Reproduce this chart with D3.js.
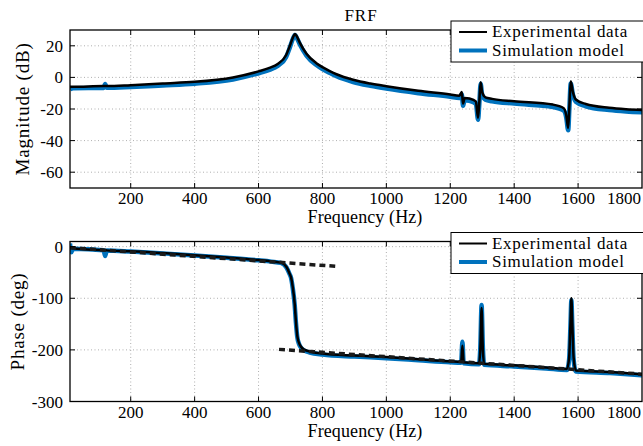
<!DOCTYPE html>
<html>
<head>
<meta charset="utf-8">
<script src="https://cdn.jsdelivr.net/npm/d3@7"></script>
<style>
  body { margin: 0; background: #fff; }
  svg text { font-family: 'Liberation Serif', 'Times New Roman', 'DejaVu Serif', serif; fill: #000; }
</style>
</head>
<body>
<svg id="chart" width="643" height="446"></svg>
<script>
// frequency axis ticks
const freqTicks = [200, 400, 600, 800, 1000, 1200, 1400, 1600, 1800];
const magTicks = [20, 0, -20, -40, -60];
const phaseTicks = [0, -100, -200, -300];

// magnitude (dB)
const magFreq = [10, 20, 115, 120, 125, 200, 300, 400, 520, 600, 634, 660, 686, 698, 707, 714, 721, 729, 750, 781, 800, 823, 844, 896, 950, 1000, 1100, 1200, 1228, 1236, 1240, 1245, 1260, 1280, 1287, 1291, 1295, 1300, 1310, 1331, 1400, 1521, 1555, 1563, 1569, 1573, 1577, 1584, 1593, 1624, 1697, 1750, 1800];
const magExp = [-5.9, -5.9, -5.5, -5.5, -5.5, -4.9, -3.8, -2.8, 0, 3.8, 6, 8.5, 14, 20, 25, 27.5, 25.5, 22, 15, 9, 6.5, 4, 2, -1.5, -3.9, -5.6, -8.5, -10.8, -11.6, -9.3, -16.5, -13, -13.4, -15.2, -25.5, -15, -3, -9.5, -12.6, -13.6, -15.1, -17.2, -19.5, -24, -32, -17, -2.5, -9.5, -14, -16.8, -19.2, -20.1, -20.6];
const magSim = [-7.5, -6.8, -6.7, -4.2, -6.6, -6.1, -5.1, -4.0, -1.3, 2.6, 4.8, 7.3, 12.8, 19, 24.2, 26.8, 24.5, 21, 13.8, 7.8, 5.3, 2.8, 0.7, -2.9, -5.3, -7.1, -10, -12.3, -13.1, -10.6, -18, -14.5, -14.9, -16.7, -26.8, -16.5, -4, -11, -14.1, -15.1, -16.6, -18.7, -21, -25.5, -33.5, -18.5, -3.8, -11, -15.5, -18.3, -20.7, -21.6, -22.1];

// phase (deg)
const phaseFreq = [10, 14, 20, 115, 120, 125, 200, 300, 400, 500, 600, 640, 670, 687, 697, 702, 707, 713, 717, 721, 727, 733, 745, 760, 800, 900, 1000, 1100, 1200, 1234, 1238, 1242, 1290, 1294, 1298, 1302, 1306, 1400, 1500, 1565, 1572, 1576, 1579, 1582, 1586, 1593, 1700, 1800];
const phaseExp = [-2, -2.5, -3, -6.8, -7, -7.2, -9, -12.5, -16.5, -21, -26, -28.5, -31, -39, -52, -60, -78, -110, -145, -172, -187, -194, -200, -203, -207, -211, -214, -218, -222, -223, -192, -224, -226, -200, -119, -200, -227, -230, -234, -237, -215, -150, -100, -150, -215, -240, -243, -247];
const phaseSim = [6, -11, -4, -7, -18, -7.5, -9.5, -13, -17, -21.5, -26.5, -29, -31.5, -40, -53, -61, -80, -112, -147, -174, -189, -196, -202, -205, -209, -213, -216, -220, -224, -225, -184, -226, -228, -195, -113, -195, -229, -232, -236, -239, -218, -155, -104, -155, -218, -242, -245, -249];

// dashed asymptotes on the phase plot
const asym1Freq = [10, 840];
const asym1 = [-2, -38];
const asym2Freq = [664, 1800];
const asym2 = [-199, -247];

const legendLabels = ["Experimental data", "Simulation model"];

const svg = d3.select('#chart');
const blue = '#0072BD';
const FONT = "'Liberation Serif', 'Times New Roman', 'DejaVu Serif', serif";

const left = 70, right = 642;
const x = d3.scaleLinear().domain([10, 1800]).range([left, right]);

function panel(id, top, bottom, yDomain, yTicks, ylabel, ylabelX, series) {
    const y = d3.scaleLinear().domain(yDomain).range([bottom, top]);
    const g = svg.append('g').attr('id', id).attr('font-family', FONT);

    g.append('clipPath').attr('id', id + '-clip')
        .append('rect').attr('x', left).attr('y', top)
        .attr('width', right - left).attr('height', bottom - top);

    // dotted grid
    g.selectAll('.gx').data(freqTicks.filter(d => x(d) < right - 1)).enter()
        .append('line')
        .attr('x1', d => x(d)).attr('x2', d => x(d))
        .attr('y1', top).attr('y2', bottom)
        .attr('stroke', '#9a9a9a').attr('stroke-width', 0.8).attr('stroke-dasharray', '1,2.5');
    g.selectAll('.gy').data(yTicks.filter(d => y(d) > top + 1 && y(d) < bottom - 1)).enter()
        .append('line')
        .attr('x1', left).attr('x2', right)
        .attr('y1', d => y(d)).attr('y2', d => y(d))
        .attr('stroke', '#9a9a9a').attr('stroke-width', 0.8).attr('stroke-dasharray', '1,2.5');

    const curves = g.append('g').attr('clip-path', 'url(#' + id + '-clip)');
    series.forEach(s => {
        const line = d3.line()
            .x((d, i) => x(s.f[i]))
            .y(d => y(d))
            .curve(d3.curveMonotoneX);
        curves.append('path')
            .attr('d', line(s.v))
            .attr('fill', 'none')
            .attr('stroke', s.color)
            .attr('stroke-width', s.width)
            .attr('stroke-linejoin', 'round')
            .attr('stroke-dasharray', s.dash || null);
    });

    // frame
    g.append('rect')
        .attr('x', left).attr('y', top)
        .attr('width', right - left).attr('height', bottom - top)
        .attr('fill', 'none').attr('stroke', '#000').attr('stroke-width', 1.3);

    // inward ticks, mirrored
    const tx = freqTicks.filter(d => x(d) < right - 1);
    g.selectAll('.tb').data(tx).enter().append('line')
        .attr('x1', d => x(d)).attr('x2', d => x(d))
        .attr('y1', bottom).attr('y2', bottom - 5)
        .attr('stroke', '#000').attr('stroke-width', 1);
    g.selectAll('.tt').data(tx).enter().append('line')
        .attr('x1', d => x(d)).attr('x2', d => x(d))
        .attr('y1', top).attr('y2', top + 5)
        .attr('stroke', '#000').attr('stroke-width', 1);
    const ty = yTicks.filter(d => y(d) > top + 1 && y(d) < bottom - 1);
    g.selectAll('.tl').data(ty).enter().append('line')
        .attr('x1', left).attr('x2', left + 5)
        .attr('y1', d => y(d)).attr('y2', d => y(d))
        .attr('stroke', '#000').attr('stroke-width', 1);
    g.selectAll('.tr').data(ty).enter().append('line')
        .attr('x1', right).attr('x2', right - 5)
        .attr('y1', d => y(d)).attr('y2', d => y(d))
        .attr('stroke', '#000').attr('stroke-width', 1);

    // tick labels
    g.selectAll('.lx').data(freqTicks).enter().append('text')
        .attr('x', d => d === 1800 ? right - 1 : x(d))
        .attr('y', bottom + 16)
        .attr('text-anchor', d => d === 1800 ? 'end' : 'middle')
        .attr('font-size', 17)
        .text(d => d);
    g.selectAll('.ly').data(yTicks).enter().append('text')
        .attr('x', 63)
        .attr('y', d => y(d) + 6)
        .attr('text-anchor', 'end')
        .attr('font-size', 17)
        .text(d => String(d));

    g.append('text')
        .attr('x', 365).attr('y', bottom + 35)
        .attr('text-anchor', 'middle')
        .attr('font-size', 18).attr('letter-spacing', 0.1)
        .text('Frequency (Hz)');
    g.append('text')
        .attr('transform', 'translate(' + ylabelX + ',' + ((top + bottom) / 2) + ') rotate(-90)')
        .attr('text-anchor', 'middle')
        .attr('font-size', 19).attr('letter-spacing', 0.8)
        .text(ylabel);

    // legend
    const ly = top - 9;
    const lg = g.append('g');
    lg.append('rect').attr('x', 451).attr('y', ly).attr('width', 200).attr('height', 41)
        .attr('fill', '#fff').attr('stroke', '#000').attr('stroke-width', 1);
    const lcol = ['#000', blue], lw = [2, 4];
    legendLabels.forEach((t, i) => {
        const yy = ly + 11 + i * 18.5;
        lg.append('line').attr('x1', 459).attr('x2', 487).attr('y1', yy).attr('y2', yy)
            .attr('stroke', lcol[i]).attr('stroke-width', lw[i]);
        lg.append('text').attr('x', 492).attr('y', yy + 5)
            .attr('font-size', 17).attr('letter-spacing', 0.7)
            .text(t);
    });
    return y;
}

panel('mag', 30, 188, [-70, 30], magTicks, 'Magnitude (dB)', 29, [
    { f: magFreq, v: magSim, color: blue, width: 4.5 },
    { f: magFreq, v: magExp, color: '#000', width: 2.5 }
]);

panel('phase', 241.5, 401.5, [-300, 10], phaseTicks, 'Phase (deg)', 24, [
    { f: phaseFreq, v: phaseSim, color: blue, width: 4.5 },
    { f: phaseFreq, v: phaseExp, color: '#000', width: 2.5 },
    { f: asym1Freq, v: asym1, color: '#1a1a1a', width: 3.5, dash: '6,4' },
    { f: asym2Freq, v: asym2, color: '#1a1a1a', width: 3.5, dash: '6,4' }
]);

svg.append('text')
    .attr('x', 361).attr('y', 21)
    .attr('text-anchor', 'middle')
    .attr('font-family', FONT)
    .attr('font-size', 17).attr('letter-spacing', 1)
    .text('FRF');
</script>
</body>
</html>
